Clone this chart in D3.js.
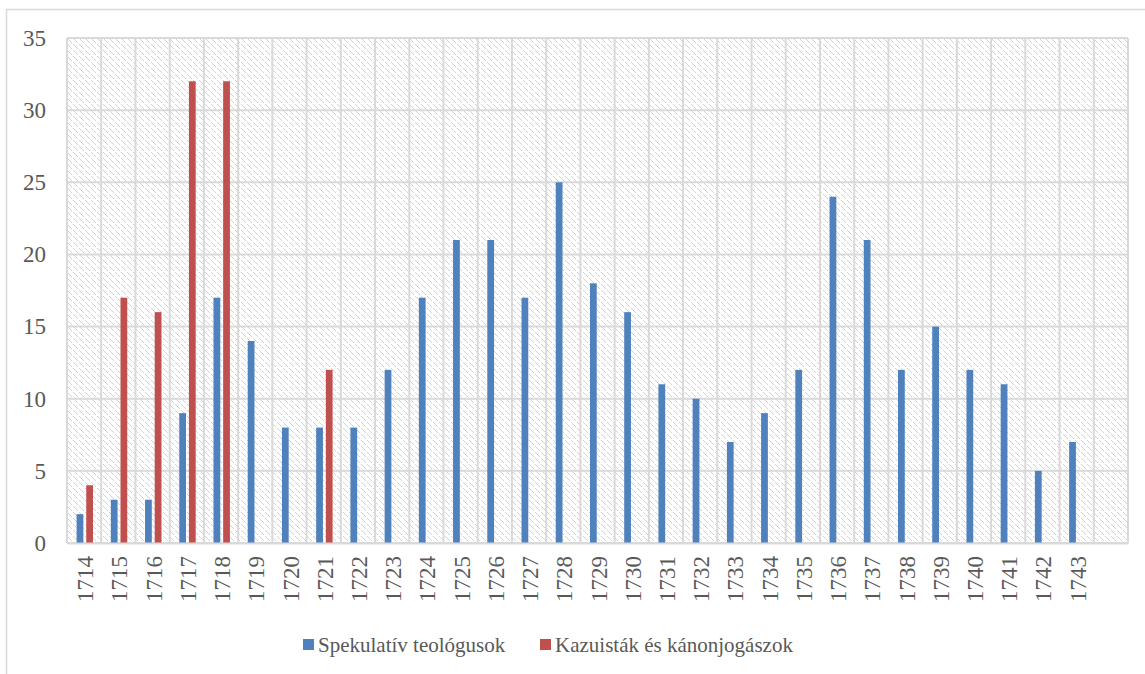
<!DOCTYPE html>
<html>
<head>
<meta charset="utf-8">
<script src="https://cdn.jsdelivr.net/npm/d3@7"></script>
<style>
  body { margin: 0; background: #fff; }
  svg text { font-family: "Liberation Serif", "Times New Roman", serif; }
</style>
</head>
<body>
<svg id="chart" width="1145" height="674"></svg>
<script>
const years = ["1714", "1715", "1716", "1717", "1718", "1719", "1720", "1721", "1722", "1723",
  "1724", "1725", "1726", "1727", "1728", "1729", "1730", "1731", "1732", "1733",
  "1734", "1735", "1736", "1737", "1738", "1739", "1740", "1741", "1742", "1743", ""];
const spekulativ = [2, 3, 3, 9, 17, 14, 8, 8, 8, 12, 17, 21, 21, 17, 25, 18, 16, 11, 10, 7,
  9, 12, 24, 21, 12, 15, 12, 11, 5, 7, 0];
const kazuistak = [4, 17, 16, 32, 32, 0, 0, 12, 0, 0, 0, 0, 0, 0, 0, 0, 0, 0, 0, 0,
  0, 0, 0, 0, 0, 0, 0, 0, 0, 0, 0];
const seriesNames = ["Spekulatív teológusok", "Kazuisták és kánonjogászok"];
const seriesColors = ["#4f81bd", "#c0504d"];
const yTicks = [0, 5, 10, 15, 20, 25, 30, 35];

const svg = d3.select("#chart");
const margin = { top: 38, right: 17, bottom: 131, left: 67 };
const width = +svg.attr("width");
const height = +svg.attr("height");
const chartWidth = width - margin.left - margin.right;
const chartHeight = height - margin.top - margin.bottom;

// outer frame (only left + top visible in the original)
svg.append("line").attr("x1", 6.5).attr("x2", 6.5).attr("y1", 9.5).attr("y2", height)
  .attr("stroke", "#d9d9d9").attr("stroke-width", 1.5);
svg.append("line").attr("x1", 6).attr("x2", width).attr("y1", 9.5).attr("y2", 9.5)
  .attr("stroke", "#d9d9d9").attr("stroke-width", 1.5);

// pixel diagonal hatch (top-left to bottom-right)
const defs = svg.append("defs");
const pat = defs.append("pattern")
  .attr("id", "hatch")
  .attr("patternUnits", "userSpaceOnUse")
  .attr("width", 6).attr("height", 6);
pat.append("rect").attr("width", 6).attr("height", 6).attr("fill", "#fff");
[0, 1, 2, 3, 4].forEach((i) => {
  pat.append("rect").attr("x", i).attr("y", i).attr("width", 1).attr("height", 1)
    .attr("fill", "#d2d2d2").attr("shape-rendering", "crispEdges");
});

const g = svg.append("g").attr("transform", `translate(${margin.left},${margin.top})`);

const x = d3.scaleBand().domain(years.map((d, i) => i)).range([0, chartWidth]).padding(0);
const y = d3.scaleLinear().domain([0, 35]).range([chartHeight, 0]);
const xInner = d3.scaleBand().domain([0, 1])
  .range([x.bandwidth() * 0.28, x.bandwidth() * 0.76]).paddingInner(0.3);

g.append("rect").attr("width", chartWidth).attr("height", chartHeight).attr("fill", "url(#hatch)");

// gridlines
g.append("g").selectAll("line").data(yTicks).enter().append("line")
  .attr("x1", 0).attr("x2", chartWidth)
  .attr("y1", (d) => y(d)).attr("y2", (d) => y(d))
  .attr("stroke", "#d9d9d9").attr("stroke-width", 2);
g.append("g").selectAll("line").data(d3.range(years.length + 1)).enter().append("line")
  .attr("x1", (d) => d * x.step()).attr("x2", (d) => d * x.step())
  .attr("y1", 0).attr("y2", chartHeight)
  .attr("stroke", "#d9d9d9").attr("stroke-width", 2);

// bars
const series = [spekulativ, kazuistak];
series.forEach((vals, s) => {
  g.append("g").selectAll("rect").data(vals).enter().append("rect")
    .attr("x", (d, i) => x(i) + xInner(s))
    .attr("y", (d) => y(d))
    .attr("width", xInner.bandwidth())
    .attr("height", (d) => chartHeight - y(d))
    .attr("fill", seriesColors[s]);
});

// y axis labels
const yAxis = g.append("g").call(d3.axisLeft(y).tickValues(yTicks).tickSize(0).tickPadding(21));
yAxis.attr("font-family", null);
yAxis.select(".domain").remove();
yAxis.selectAll("text").attr("font-size", 23).attr("fill", "#595959");

// x axis
const xAxis = g.append("g").attr("transform", `translate(0,${chartHeight})`)
  .call(d3.axisBottom(x).tickFormat((i) => years[i]).tickSize(0));
xAxis.attr("font-family", null);
xAxis.select(".domain").attr("stroke", "#d9d9d9").attr("stroke-width", 2);
xAxis.selectAll("text")
  .attr("font-size", 23).attr("fill", "#595959")
  .attr("transform", "rotate(-90)")
  .attr("text-anchor", "end")
  .attr("x", -13).attr("y", 1).attr("dy", "0.35em");

// legend
const legendX = [303, 540];
const legend = svg.append("g");
seriesNames.forEach((name, s) => {
  legend.append("rect").attr("x", legendX[s]).attr("y", 639).attr("width", 11).attr("height", 11)
    .attr("fill", seriesColors[s]);
  legend.append("text").attr("x", legendX[s] + 15).attr("y", 645).attr("dy", "0.35em")
    .attr("font-size", 21).attr("fill", "#595959").text(name);
});
</script>
</body>
</html>
